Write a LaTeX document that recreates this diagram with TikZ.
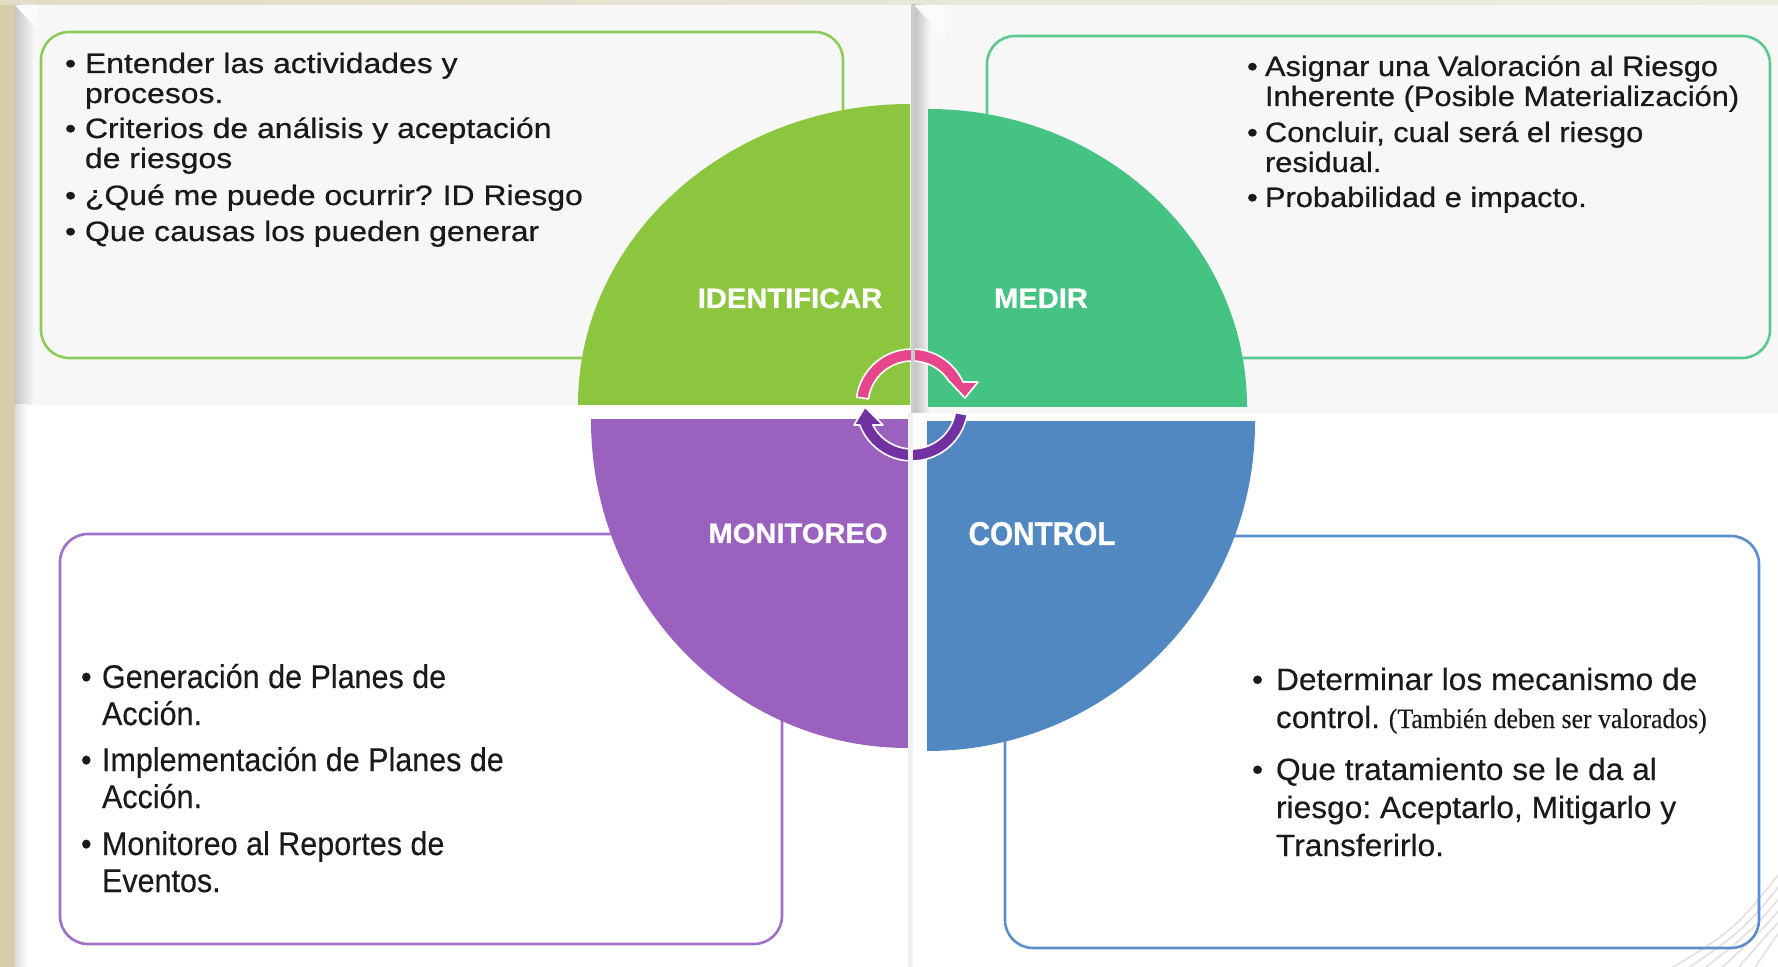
\documentclass[tikz,border=0pt]{standalone}
\usepackage{fontspec}
\setmainfont{Liberation Sans}
\newfontfamily\tlfont[FakeStretch=1.14,FakeBold=0.6]{Liberation Sans}
\newfontfamily\trfont[FakeStretch=1.10,FakeBold=0.6]{Liberation Sans}
\newfontfamily\blfont[FakeStretch=0.93,FakeBold=0.3]{Liberation Sans}
\newfontfamily\brfont[FakeStretch=1.03,FakeBold=0.3]{Liberation Sans}
\newfontfamily\parfont[FakeStretch=0.92,FakeBold=0.2]{Liberation Serif}
\newfontfamily\lblfont[FakeStretch=1.04,FakeBold=0.8]{Liberation Sans}
\newfontfamily\ctlfont[FakeStretch=0.9,FakeBold=0.8]{Liberation Sans}
\definecolor{beigeL}{HTML}{D6CDAB}
\definecolor{beigeT}{HTML}{E2DDC6}
\definecolor{beigeR}{HTML}{EDEEE2}
\definecolor{panelg}{HTML}{F7F7F7}
\definecolor{cgreen}{HTML}{8CC63F}
\definecolor{cteal}{HTML}{45C383}
\definecolor{cpurple}{HTML}{9A62BE}
\definecolor{cblue}{HTML}{5288C2}
\definecolor{bgreen}{HTML}{8FCB59}
\definecolor{bteal}{HTML}{5CC991}
\definecolor{bpurple}{HTML}{A070C8}
\definecolor{bblue}{HTML}{5B8FCB}
\definecolor{apink}{HTML}{E8468A}
\definecolor{apurple}{HTML}{7231A1}
\definecolor{txt}{HTML}{1A1A1A}
\begin{document}
\frenchspacing
\begin{tikzpicture}[x=0.5pt,y=-0.5pt,
  boxline/.style={line width=1.3pt, rounded corners=14pt},
  itemtext/.style={anchor=base west, inner sep=0pt, outer sep=0pt, text=txt},
  tltext/.style={itemtext, font=\tlfont\fontsize{14}{15}\selectfont},
  trtext/.style={itemtext, font=\trfont\fontsize{14}{15}\selectfont},
  bltext/.style={itemtext, font=\blfont\fontsize{16.4}{18.5}\selectfont},
  brtext/.style={itemtext, font=\brfont\fontsize{15.4}{19}\selectfont},
  qlabel/.style={anchor=base, inner sep=0pt, text=white, font=\lblfont\bfseries\fontsize{14}{16}\selectfont},
  arrowshape/.style={draw=white, line width=0.8pt, line join=round},
]
\useasboundingbox (0,0) rectangle (1778,967);
% backgrounds
\fill[beigeL] (0,0) rectangle (1778,967);
\shade[left color=beigeT, right color=beigeR] (0,0) rectangle (1778,5);
\fill[panelg] (15,5) rectangle (912,405);
\fill[panelg] (912,5) rectangle (1778,413);
\fill[white] (15,405) rectangle (912,967);
\fill[white] (912,413) rectangle (1778,967);
\shade[left color=gray!45, right color=panelg] (15,5) rectangle (34,405);
\fill[white!50!panelg] (15,5) -- (38,5) -- (38,30) -- cycle;
\shade[left color=gray!28, right color=white] (15,405) rectangle (28,967);
\shade[left color=gray!55, right color=panelg] (912,5) rectangle (930,413);
\fill[white!50!panelg] (914,5) -- (945,5) -- (945,38) -- cycle;
% decorative fan lines bottom right
\begin{scope}
\clip (1005,413) rectangle (1778,967);
\foreach \o in {0,18,...,90}
  \draw[gray!22, line width=0.9pt] (1660+\o,975) .. controls (1735+\o*0.5,930) .. (1790,860+\o*0.7);
\end{scope}
% boxes
\draw[boxline, bgreen] (41,32) rectangle (843,358);
\draw[boxline, bteal] (987,36) rectangle (1770,358);
\draw[boxline, bpurple] (60,534) rectangle (782,944);
\draw[boxline, bblue] (1005,536) rectangle (1759,948);
% quadrants
\begin{scope}
\clip (560,80) rectangle (910,405);
\fill[cgreen] (910,405) ellipse [x radius=332, y radius=301];
\end{scope}
\begin{scope}
\clip (928,90) rectangle (1260,407);
\fill[cteal] (928,407) ellipse [x radius=319, y radius=298];
\end{scope}
\begin{scope}
\clip (580,420) rectangle (908,770);
\fill[cpurple] (908,420) ellipse [x radius=317, y radius=328];
\end{scope}
\begin{scope}
\clip (927,422) rectangle (1270,770);
\fill[cblue] (927,422) ellipse [x radius=328, y radius=329];
\end{scope}
% labels
\node[qlabel] (lid) at (790,308) {IDENTIFICAR};
\node[qlabel] (lme) at (1041,308) {MEDIR};
\node[qlabel] (lmo) at (798,543) {MONITOREO};
\node[qlabel, font=\ctlfont\bfseries\fontsize{16.5}{18}\selectfont] (lco) at (1042,545) {CONTROL};
% cycle arrows
\begin{scope}[shift={(912,405)}]
\fill[apink, arrowshape] (-172:44) arc[start angle=-172, end angle=-31.5, radius=44]
  -- (38,-23) -- (53,-7) -- (66,-23) -- (-24.2:56)
  arc[start angle=-24.2, end angle=-172, radius=56] -- cycle;
\fill[apurple, arrowshape] (10:44) arc[start angle=10, end angle=153, radius=44]
  -- (-29,20) -- (-47,2) -- (-58,20) -- (159.1:56)
  arc[start angle=159.1, end angle=10, radius=56] -- cycle;
\end{scope}
% separators
\fill[gray!40] (911,5) rectangle (915,413);
\fill[gray!12] (908,413) rectangle (913,967);
% texts top left
\node[tltext] (tl1) at (65,73) {\begin{tabular}[t]{@{}l@{}l@{}}\makebox[10pt][l]{•}&Entender las actividades y\\&procesos.\end{tabular}};
\node[tltext] (tl2) at (65,138) {\begin{tabular}[t]{@{}l@{}l@{}}\makebox[10pt][l]{•}&Criterios de análisis y aceptación\\&de riesgos\end{tabular}};
\node[tltext] (tl3) at (65,205) {\begin{tabular}[t]{@{}l@{}l@{}}\makebox[10pt][l]{•}&¿Qué me puede ocurrir?\hspace{5pt}ID Riesgo\end{tabular}};
\node[tltext] (tl4) at (65,241) {\begin{tabular}[t]{@{}l@{}l@{}}\makebox[10pt][l]{•}&Que causas los pueden generar\end{tabular}};
% texts top right
\node[trtext] (tr1) at (1247,76) {\begin{tabular}[t]{@{}l@{}l@{}}\makebox[9pt][l]{•}&Asignar una Valoración al Riesgo\\&Inherente (Posible Materialización)\end{tabular}};
\node[trtext] (tr2) at (1247,142) {\begin{tabular}[t]{@{}l@{}l@{}}\makebox[9pt][l]{•}&Concluir, cual será el riesgo\\&residual.\end{tabular}};
\node[trtext] (tr3) at (1247,207) {\begin{tabular}[t]{@{}l@{}l@{}}\makebox[9pt][l]{•}&Probabilidad e impacto.\end{tabular}};
% texts bottom left
\node[bltext] (bl1) at (81,688) {\begin{tabular}[t]{@{}l@{}l@{}}\makebox[10.5pt][l]{•}&Generación de Planes de\\&Acción.\end{tabular}};
\node[bltext] (bl2) at (81,771) {\begin{tabular}[t]{@{}l@{}l@{}}\makebox[10.5pt][l]{•}&Implementación de Planes de\\&Acción.\end{tabular}};
\node[bltext] (bl3) at (81,855) {\begin{tabular}[t]{@{}l@{}l@{}}\makebox[10.5pt][l]{•}&Monitoreo al Reportes de\\&Eventos.\end{tabular}};
% texts bottom right
\node[brtext] (br1) at (1252,690) {\begin{tabular}[t]{@{}l@{}l@{}}\makebox[12pt][l]{•}&Determinar los mecanismo de\\&control. {\parfont\fontsize{14}{15}\selectfont(También deben ser valorados)}\end{tabular}};
\node[brtext] (br2) at (1252,780) {\begin{tabular}[t]{@{}l@{}l@{}}\makebox[12pt][l]{•}&Que tratamiento se le da al\\&riesgo: Aceptarlo, Mitigarlo y\\&Transferirlo.\end{tabular}};
\end{tikzpicture}
\end{document}
